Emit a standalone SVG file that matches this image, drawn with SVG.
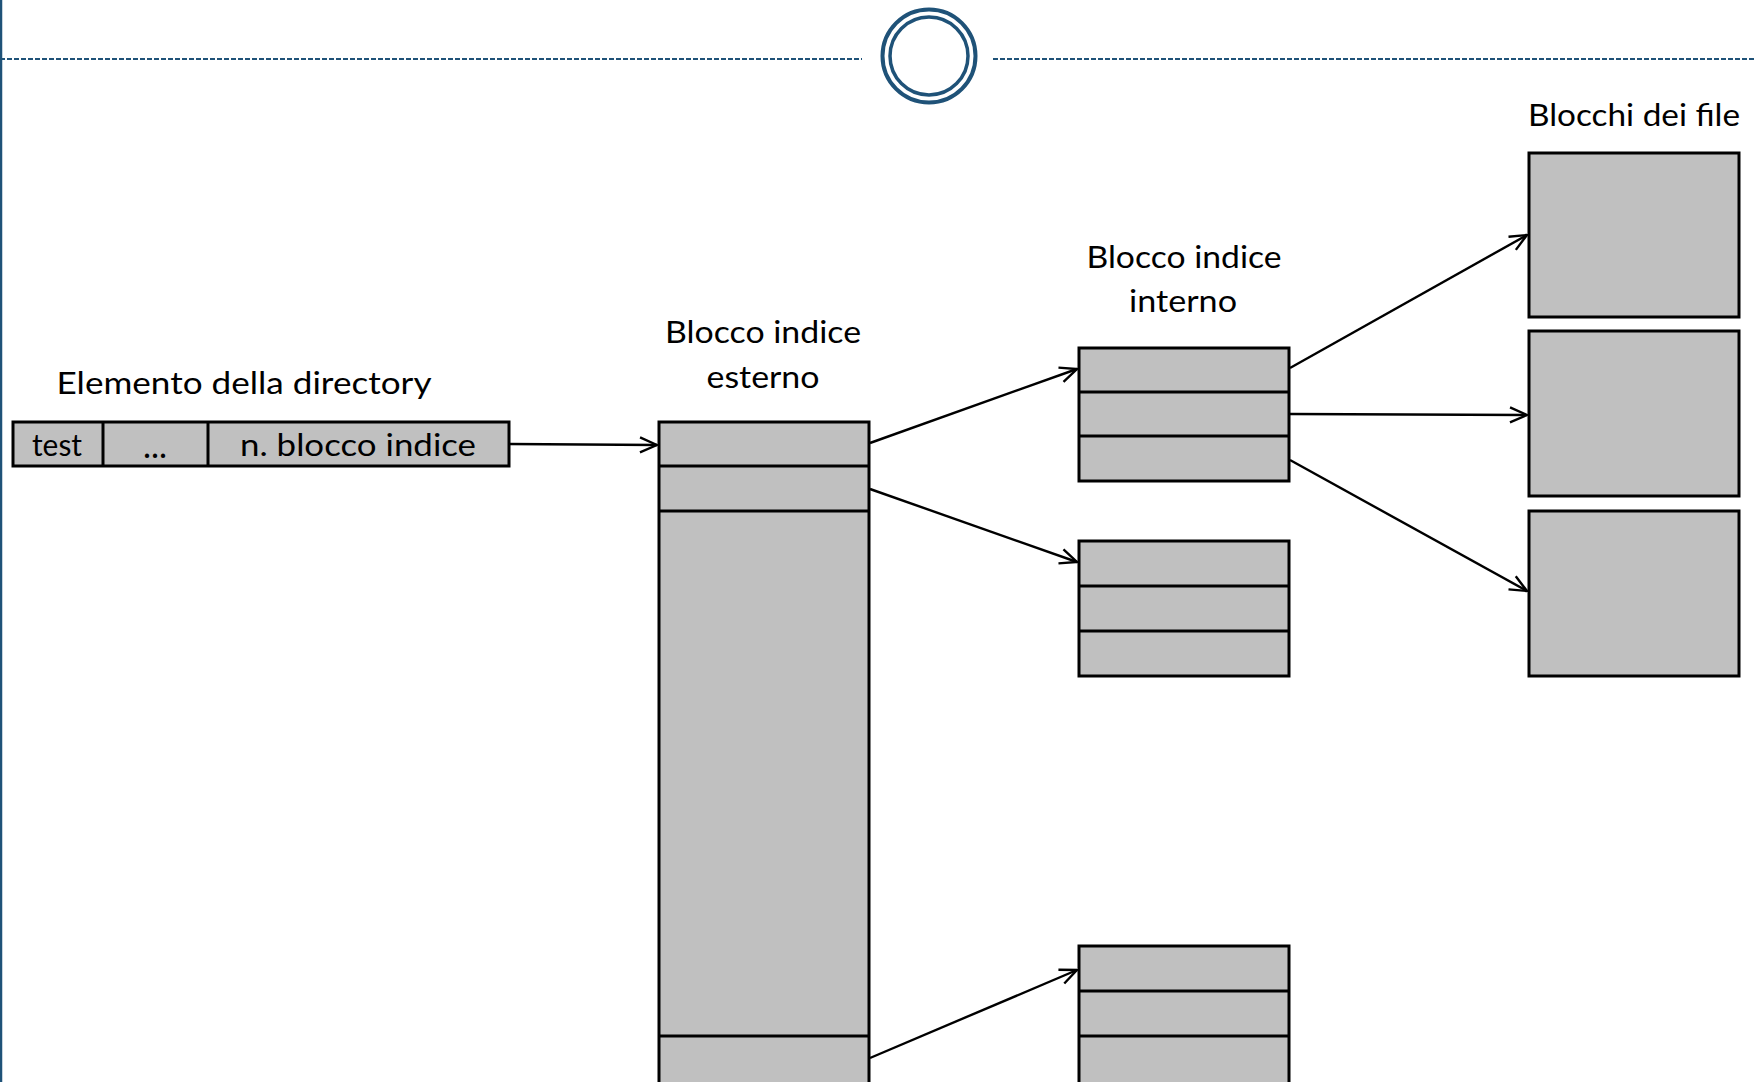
<svg xmlns="http://www.w3.org/2000/svg" width="1754" height="1082" viewBox="0 0 1754 1082">
<style>
.blk{fill:#C0C0C0;stroke:#000;stroke-width:3}
.div{stroke:#000;stroke-width:3;fill:none}
.t{font-family:Lato,"Open Sans",sans-serif;font-size:30px;fill:#000;text-anchor:middle}
.con{stroke:#000;stroke-width:2.4;fill:none;marker-end:url(#arr)}
.deco{stroke:#1F5278;fill:none}
</style>
<defs>
<marker id="arr" viewBox="0 0 20 18" refX="19" refY="9" markerWidth="20" markerHeight="18" markerUnits="userSpaceOnUse" orient="auto">
<path d="M2,1.5 L19,9 L2,16.5" fill="none" stroke="#000" stroke-width="2.4"/>
</marker>
</defs>
<rect width="1754" height="1082" fill="#fff"/>
<g id="decoration">
<line class="deco" x1="1" y1="0" x2="1" y2="1082" stroke-width="2.5"/>
<line class="deco" x1="0" y1="59" x2="862" y2="59" stroke-width="2" stroke-dasharray="5 2"/>
<line class="deco" x1="993" y1="59" x2="1754" y2="59" stroke-width="2" stroke-dasharray="5 2"/>
<circle class="deco" cx="929" cy="56" r="46.5" stroke-width="4"/>
<circle class="deco" cx="929" cy="56" r="39" stroke-width="3.5"/>
</g>
<g id="directory">
<text class="t" x="244" y="394" textLength="375" lengthAdjust="spacingAndGlyphs">Elemento della directory</text>
<rect class="blk" x="13" y="422" width="496" height="44"/>
<line class="div" x1="103" y1="422" x2="103" y2="466"/>
<line class="div" x1="208" y1="422" x2="208" y2="466"/>
<text class="t" x="57" y="456" textLength="50" lengthAdjust="spacingAndGlyphs">test</text>
<text class="t" x="155" y="458" style="font-size:34px">...</text>
<text class="t" x="358" y="456" textLength="236" lengthAdjust="spacingAndGlyphs">n. blocco indice</text>
</g>
<g id="outer-index">
<text class="t" x="763" y="343" textLength="196" lengthAdjust="spacingAndGlyphs">Blocco indice</text>
<text class="t" x="763" y="388" textLength="113" lengthAdjust="spacingAndGlyphs">esterno</text>
<rect class="blk" x="659" y="422" width="210" height="670"/>
<line class="div" x1="659" y1="466" x2="869" y2="466"/>
<line class="div" x1="659" y1="511" x2="869" y2="511"/>
<line class="div" x1="659" y1="1036" x2="869" y2="1036"/>
</g>
<g id="inner-index-1">
<text class="t" x="1184" y="268" textLength="195" lengthAdjust="spacingAndGlyphs">Blocco indice</text>
<text class="t" x="1183" y="312" textLength="108" lengthAdjust="spacingAndGlyphs">interno</text>
<rect class="blk" x="1079" y="348" width="210" height="133"/>
<line class="div" x1="1079" y1="392" x2="1289" y2="392"/>
<line class="div" x1="1079" y1="436" x2="1289" y2="436"/>
</g>
<g id="inner-index-2">
<rect class="blk" x="1079" y="541" width="210" height="135"/>
<line class="div" x1="1079" y1="586" x2="1289" y2="586"/>
<line class="div" x1="1079" y1="631" x2="1289" y2="631"/>
</g>
<g id="inner-index-3">
<rect class="blk" x="1079" y="946" width="210" height="146"/>
<line class="div" x1="1079" y1="991" x2="1289" y2="991"/>
<line class="div" x1="1079" y1="1036" x2="1289" y2="1036"/>
</g>
<g id="file-blocks">
<text class="t" x="1634" y="126" textLength="212" lengthAdjust="spacingAndGlyphs">Blocchi dei file</text>
<rect class="blk" x="1529" y="153" width="210" height="164"/>
<rect class="blk" x="1529" y="331" width="210" height="165"/>
<rect class="blk" x="1529" y="511" width="210" height="165"/>
</g>
<g id="connectors">
<line class="con" x1="509" y1="444" x2="657" y2="445"/>
<line class="con" x1="870" y1="443" x2="1077" y2="369"/>
<line class="con" x1="870" y1="489" x2="1077" y2="562"/>
<line class="con" x1="870" y1="1058" x2="1077" y2="970"/>
<line class="con" x1="1290" y1="368" x2="1527" y2="235"/>
<line class="con" x1="1290" y1="414" x2="1527" y2="415"/>
<line class="con" x1="1290" y1="460" x2="1527" y2="591"/>
</g>
</svg>
